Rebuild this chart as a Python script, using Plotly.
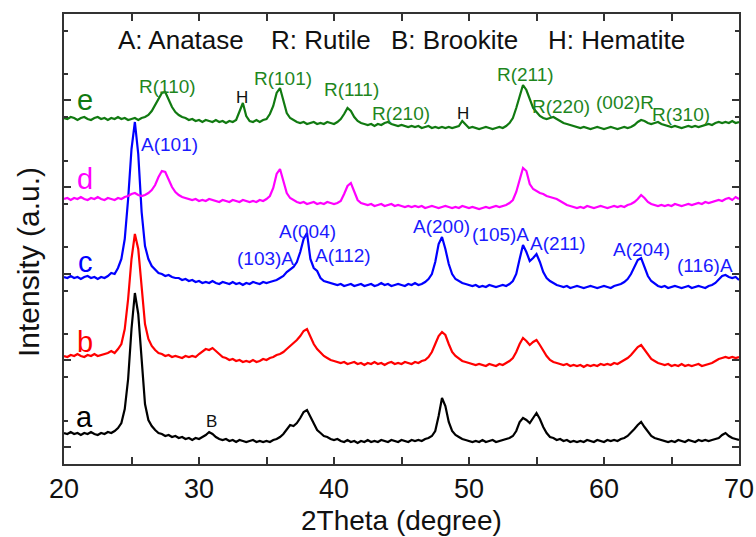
import plotly.graph_objects as go

# 2-theta grid (degrees), step 0.25
two_theta = [20 + 0.25 * i for i in range(201)]

# Intensities (a.u.), one value per grid point
a_int = [31,30,32,30,31,29,31,30,32,30,29,31,30,32,31,33,36,41,55,85,
         135,171,150,100,60,44,38,34,31,30,28,29,27,28,26,27,25,26,24,26,
         25,27,29,32,30,27,25,24,25,23,24,22,24,23,22,23,24,22,23,22,
         23,22,24,25,27,30,35,39,38,41,46,52,54,47,40,34,31,28,27,25,
         24,25,23,22,24,22,23,21,23,22,24,22,23,22,24,23,22,24,23,22,
         24,23,22,24,23,24,23,25,26,28,33,48,66,58,42,33,29,27,25,24,
         23,22,23,22,24,22,23,24,22,23,24,25,26,28,33,42,46,44,41,46,
         51,45,37,31,27,26,24,25,23,24,22,23,22,23,22,24,23,22,24,23,
         22,24,23,24,23,25,26,28,31,35,39,42,37,32,28,26,25,24,23,22,
         23,22,24,23,22,24,23,22,24,23,24,23,24,25,26,29,31,28,26,25,24]

b_int = [108,107,109,108,110,108,107,109,108,110,108,109,110,111,113,111,115,120,135,165,
         205,230,215,175,140,125,118,114,111,110,108,109,107,108,107,106,108,107,108,107,
         110,113,115,114,116,113,110,107,106,104,105,103,104,102,103,102,104,102,103,105,
         104,106,107,109,110,112,115,118,120,124,128,133,135,127,120,115,111,108,106,104,
         103,102,101,102,100,101,102,100,101,99,101,100,102,100,101,99,101,102,100,101,
         100,102,101,100,102,101,103,104,107,112,120,128,132,129,120,112,108,105,103,102,
         101,100,99,100,99,98,100,99,98,100,99,101,103,106,112,120,126,123,119,122,
         124,119,113,108,104,102,101,100,99,100,98,99,98,99,97,99,98,99,98,100,
         99,100,99,101,100,102,104,106,109,113,117,119,114,109,105,103,101,100,99,100,
         98,99,98,100,98,99,98,99,100,98,99,100,101,103,105,106,107,106,107,106,107]

c_int = [187,186,188,186,187,185,187,188,186,187,185,187,186,188,191,190,196,205,225,265,
         315,342,310,252,218,205,198,194,191,190,188,189,187,186,186,184,185,183,184,182,
         183,181,182,181,183,181,180,182,181,180,182,180,181,179,181,180,182,181,180,182,
         181,182,183,184,186,188,192,195,197,202,212,225,231,205,196,193,186,183,182,181,
         180,179,180,178,179,180,178,179,180,178,179,180,178,179,181,179,180,178,179,180,
         179,178,180,179,181,179,180,182,185,190,202,220,227,215,200,190,185,183,181,180,
         179,178,179,177,178,177,179,178,177,178,179,178,180,183,190,205,219,212,203,206,
         210,202,192,186,183,181,179,178,177,178,176,177,178,177,176,177,178,177,176,177,
         178,177,176,178,179,180,182,185,190,197,204,206,196,188,183,180,178,177,178,176,
         177,178,177,176,177,178,176,177,178,177,176,178,179,181,185,188,189,187,186,187,184]

d_int = [265,266,264,266,265,267,265,264,266,265,267,265,264,266,265,264,266,265,267,268,
         270,271,269,268,269,271,274,279,287,293,292,285,277,272,269,267,266,265,264,265,
         263,264,263,265,264,263,262,264,263,262,264,263,262,264,263,262,263,262,264,263,
         265,268,276,290,295,282,271,266,264,262,261,262,260,261,262,260,261,260,262,261,
         260,261,263,270,278,281,272,264,261,260,259,260,258,259,260,258,259,260,258,259,
         258,257,258,257,258,257,258,256,257,258,257,256,257,258,257,256,257,256,258,257,
         256,257,256,255,256,257,256,257,258,257,258,259,261,264,272,284,296,293,280,275,
         273,271,270,268,267,266,265,263,261,259,258,257,256,257,256,258,257,256,257,258,
         257,256,257,258,257,258,257,259,260,262,265,269,266,262,260,259,258,259,258,259,
         258,260,259,258,259,260,259,260,261,260,262,261,262,263,264,263,265,266,264,267,265]

e_int = [346,345,347,346,344,346,347,345,344,346,347,345,346,344,346,345,347,345,346,344,
         345,346,344,346,347,349,353,359,366,371,372,364,357,352,349,347,346,344,345,343,
         344,342,344,343,342,344,342,343,341,343,342,344,352,361,348,343,342,344,342,344,
         345,350,358,371,376,362,351,346,344,342,341,342,340,341,342,340,341,340,342,341,
         340,342,345,350,356,353,347,343,341,340,339,340,338,340,339,341,342,340,339,338,
         339,338,337,338,337,338,336,337,338,336,337,336,337,336,337,336,337,338,343,339,
         336,337,336,335,336,337,336,335,336,337,336,338,341,346,356,368,379,374,364,356,
         352,348,346,345,346,347,345,343,341,340,339,338,337,336,337,336,335,336,337,336,
         335,336,337,336,335,336,337,336,337,339,342,344,343,341,340,341,342,340,339,338,
         337,338,337,336,337,338,337,338,337,338,339,340,339,341,342,341,342,341,343,341,342]

sample_names = ["a", "b", "c", "d", "e"]
sample_colors = ["#000000", "#ff0000", "#0000ff", "#ff00ff", "#117a11"]
series = [a_int, b_int, c_int, d_int, e_int]

# header legend
phase_keys = ["A: Anatase", "R: Rutile", "B: Brookite", "H: Hematite"]
phase_key_x = [28.67, 39.04, 48.89, 60.96]

# peak labels: text, 2theta, level, colour
peak_texts = ["R(110)", "H", "R(101)", "R(111)", "R(210)", "H", "R(211)", "R(220)", "(002)R", "R(310)",
              "A(101)", "(103)A", "A(004)", "A(112)", "A(200)", "(105)A", "A(211)", "A(204)", "(116)A",
              "B"]
peak_x = [27.63, 33.19, 36.22, 41.26, 44.96, 49.56, 54.22, 56.81, 61.56, 65.7,
          27.78, 34.96, 38.07, 40.67, 47.93, 52.3, 56.6, 62.81, 67.48,
          30.96]
peak_y = [378, 367, 386, 375, 351, 351, 390, 358, 362, 350,
          320, 206, 233, 209, 238, 230, 221, 215, 199,
          43]
peak_color = ["#1e861e", "#111111", "#1e861e", "#1e861e", "#1e861e", "#111111", "#1e861e", "#1e861e", "#1e861e", "#1e861e",
              "#1a1aff", "#1a1aff", "#1a1aff", "#1a1aff", "#1a1aff", "#1a1aff", "#1a1aff", "#1a1aff", "#1a1aff",
              "#111111"]

# sample letter labels
letter_x = [21.5, 21.55, 21.6, 21.55, 21.55]
letter_y = [47, 122, 202, 285, 364]

FONT = "Liberation Sans, Arial, sans-serif"

fig = go.Figure()
for name, col, ys in zip(sample_names, sample_colors, series):
    fig.add_trace(go.Scatter(x=two_theta, y=ys, mode="lines", name=name,
                             line=dict(color=col, width=2.2), showlegend=False))

ann = []
for t, x in zip(phase_keys, phase_key_x):
    ann.append(dict(x=x, y=424, text=t, showarrow=False,
                    font=dict(size=26, color="#111111", family=FONT)))
for t, x, y, c in zip(peak_texts, peak_x, peak_y, peak_color):
    fs = 17 if t in ("H", "B") else 19
    ann.append(dict(x=x, y=y, text=t, showarrow=False,
                    font=dict(size=fs, color=c, family=FONT)))
for t, x, y, c in zip(sample_names, letter_x, letter_y, sample_colors):
    ann.append(dict(x=x, y=y, text=t, showarrow=False,
                    font=dict(size=29, color=c, family=FONT)))
# axis titles
ann.append(dict(xref="paper", x=-0.0533, y=202, text="Intensity (a.u.)", textangle=-90,
                showarrow=False, xanchor="center", yanchor="middle",
                font=dict(size=30, color="#111111", family=FONT)))
ann.append(dict(xref="paper", yref="paper", x=0.5, y=-0.1622, text="2Theta (degree)",
                showarrow=False, xanchor="center", yanchor="bottom", borderpad=0,
                font=dict(size=28, color="#111111", family=FONT)))

axis_common = dict(showline=True, linecolor="#333333", linewidth=2, mirror="ticks",
                   ticks="inside", tickcolor="#333333", tickwidth=1.5, ticklen=7,
                   showgrid=False, zeroline=False, automargin=False)

fig.update_layout(
    width=756, height=537,
    margin=dict(l=64, r=17, t=14, b=73, autoexpand=False),
    paper_bgcolor="white", plot_bgcolor="white",
    font=dict(family=FONT, color="#111111"),
    annotations=ann,
    xaxis=dict(range=[20, 70], tick0=20, dtick=10,
               tickfont=dict(size=27, family=FONT, color="#111111"),
               minor=dict(dtick=5, ticks="inside", ticklen=7, tickcolor="#333333", tickwidth=1.5),
               **axis_common),
    yaxis=dict(range=[0, 450], tick0=17, dtick=86.67, showticklabels=False,
               minor=dict(dtick=43.33, ticks="inside", ticklen=4, tickcolor="#333333", tickwidth=1.5),
               **axis_common),
)

fig.write_html("out.html")
